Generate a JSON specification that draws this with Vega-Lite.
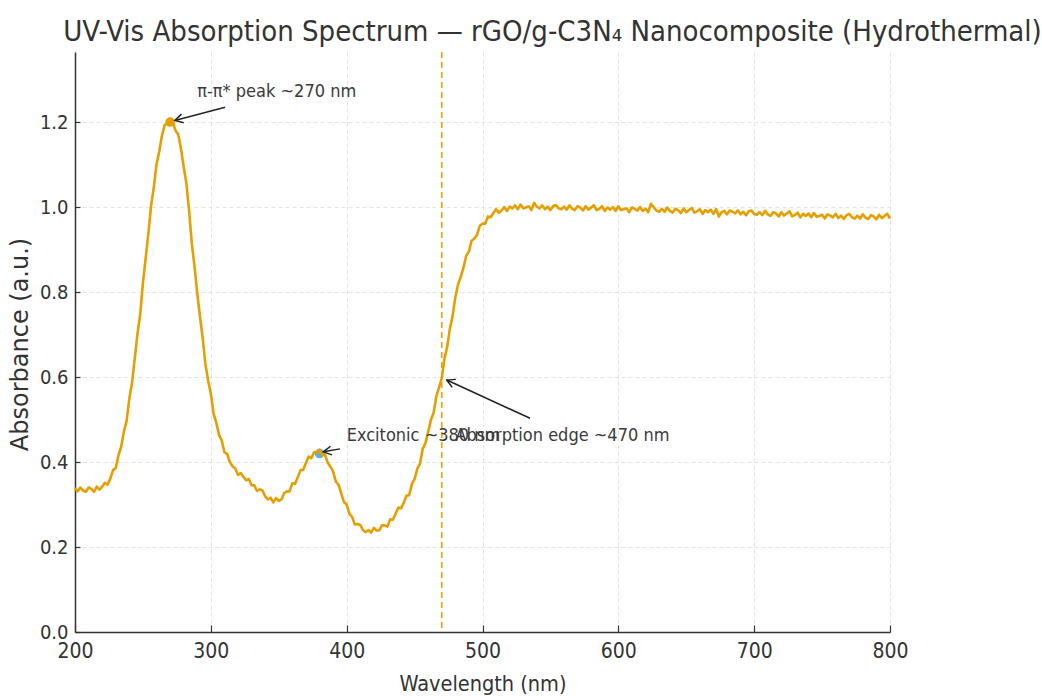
{
  "$schema": "https://vega.github.io/schema/vega-lite/v6.json",
  "width": 815,
  "height": 580,
  "autosize": "none",
  "padding": {"left": 75, "top": 52, "right": 152, "bottom": 64},
  "background": "white",
  "title": {
    "text": "UV-Vis Absorption Spectrum — rGO/g-C3N₄ Nanocomposite (Hydrothermal)",
    "font": "DejaVu Sans Condensed",
    "fontSize": 29,
    "fontWeight": "normal",
    "color": "#333333",
    "anchor": "middle",
    "frame": "group",
    "dx": 70,
    "dy": 29,
    "baseline": "alphabetic",
    "offset": 10
  },
  "config": {
    "view": {"stroke": null},
    "axis": {
      "grid": true,
      "gridColor": "#dddddd",
      "gridDash": [4, 3],
      "gridWidth": 0.8,
      "domainColor": "#333333",
      "domainWidth": 1.5,
      "tickColor": "#333333",
      "tickWidth": 1.2,
      "labelFont": "DejaVu Sans Condensed",
      "labelColor": "#333333",
      "titleFont": "DejaVu Sans Condensed",
      "titleColor": "#333333",
      "titleFontWeight": "normal"
    }
  },
  "datasets": {
    "spectrum": [
      {"wl":200,"a":0.339},{"wl":202,"a":0.331},{"wl":204,"a":0.340},{"wl":206,"a":0.333},{"wl":208,"a":0.330},
      {"wl":210,"a":0.340},{"wl":212,"a":0.337},{"wl":214,"a":0.330},{"wl":216,"a":0.342},{"wl":218,"a":0.335},
      {"wl":220,"a":0.342},{"wl":222,"a":0.351},{"wl":224,"a":0.347},{"wl":226,"a":0.361},{"wl":228,"a":0.381},
      {"wl":230,"a":0.386},{"wl":232,"a":0.416},{"wl":234,"a":0.436},{"wl":236,"a":0.472},{"wl":238,"a":0.497},
      {"wl":240,"a":0.549},{"wl":242,"a":0.587},{"wl":244,"a":0.644},{"wl":246,"a":0.702},{"wl":248,"a":0.748},
      {"wl":250,"a":0.821},{"wl":252,"a":0.879},{"wl":254,"a":0.937},{"wl":256,"a":1.003},{"wl":258,"a":1.046},
      {"wl":260,"a":1.100},{"wl":262,"a":1.131},{"wl":264,"a":1.168},{"wl":266,"a":1.193},{"wl":268,"a":1.198},
      {"wl":270,"a":1.199},{"wl":272,"a":1.199},{"wl":274,"a":1.180},{"wl":276,"a":1.171},{"wl":278,"a":1.138},
      {"wl":280,"a":1.095},{"wl":282,"a":1.056},{"wl":284,"a":0.991},{"wl":286,"a":0.914},{"wl":288,"a":0.860},
      {"wl":290,"a":0.797},{"wl":292,"a":0.742},{"wl":294,"a":0.692},{"wl":296,"a":0.631},{"wl":298,"a":0.592},
      {"wl":300,"a":0.561},{"wl":302,"a":0.514},{"wl":304,"a":0.493},{"wl":306,"a":0.464},{"wl":308,"a":0.451},
      {"wl":310,"a":0.423},{"wl":312,"a":0.419},{"wl":314,"a":0.400},{"wl":316,"a":0.390},{"wl":318,"a":0.385},
      {"wl":320,"a":0.370},{"wl":322,"a":0.374},{"wl":324,"a":0.365},{"wl":326,"a":0.357},{"wl":328,"a":0.360},
      {"wl":330,"a":0.345},{"wl":332,"a":0.345},{"wl":334,"a":0.332},{"wl":336,"a":0.336},{"wl":338,"a":0.333},
      {"wl":340,"a":0.319},{"wl":342,"a":0.312},{"wl":344,"a":0.316},{"wl":346,"a":0.305},{"wl":348,"a":0.315},
      {"wl":350,"a":0.309},{"wl":352,"a":0.312},{"wl":354,"a":0.327},{"wl":356,"a":0.331},{"wl":358,"a":0.331},
      {"wl":360,"a":0.350},{"wl":362,"a":0.349},{"wl":364,"a":0.364},{"wl":366,"a":0.381},{"wl":368,"a":0.382},
      {"wl":370,"a":0.398},{"wl":372,"a":0.413},{"wl":374,"a":0.409},{"wl":376,"a":0.423},{"wl":378,"a":0.422},
      {"wl":380,"a":0.429},{"wl":382,"a":0.415},{"wl":384,"a":0.418},{"wl":386,"a":0.399},{"wl":388,"a":0.389},
      {"wl":390,"a":0.378},{"wl":392,"a":0.354},{"wl":394,"a":0.347},{"wl":396,"a":0.326},{"wl":398,"a":0.306},
      {"wl":400,"a":0.300},{"wl":402,"a":0.278},{"wl":404,"a":0.271},{"wl":406,"a":0.253},{"wl":408,"a":0.254},
      {"wl":410,"a":0.252},{"wl":412,"a":0.240},{"wl":414,"a":0.235},{"wl":416,"a":0.240},{"wl":418,"a":0.234},
      {"wl":420,"a":0.245},{"wl":422,"a":0.239},{"wl":424,"a":0.239},{"wl":426,"a":0.251},{"wl":428,"a":0.251},
      {"wl":430,"a":0.248},{"wl":432,"a":0.265},{"wl":434,"a":0.264},{"wl":436,"a":0.278},{"wl":438,"a":0.293},
      {"wl":440,"a":0.291},{"wl":442,"a":0.304},{"wl":444,"a":0.321},{"wl":446,"a":0.322},{"wl":448,"a":0.348},
      {"wl":450,"a":0.360},{"wl":452,"a":0.384},{"wl":454,"a":0.397},{"wl":456,"a":0.431},{"wl":458,"a":0.445},
      {"wl":460,"a":0.471},{"wl":462,"a":0.499},{"wl":464,"a":0.516},{"wl":466,"a":0.554},{"wl":468,"a":0.576},
      {"wl":470,"a":0.597},{"wl":472,"a":0.643},{"wl":474,"a":0.671},{"wl":476,"a":0.714},{"wl":478,"a":0.744},
      {"wl":480,"a":0.788},{"wl":482,"a":0.818},{"wl":484,"a":0.836},{"wl":486,"a":0.858},{"wl":488,"a":0.885},
      {"wl":490,"a":0.896},{"wl":492,"a":0.921},{"wl":494,"a":0.926},{"wl":496,"a":0.935},{"wl":498,"a":0.956},
      {"wl":500,"a":0.961},{"wl":502,"a":0.961},{"wl":504,"a":0.978},{"wl":506,"a":0.976},{"wl":508,"a":0.986},
      {"wl":510,"a":0.995},{"wl":512,"a":0.987},{"wl":514,"a":0.992},{"wl":516,"a":1.000},{"wl":518,"a":0.991},
      {"wl":520,"a":1.001},{"wl":522,"a":0.997},{"wl":524,"a":1.004},{"wl":526,"a":0.995},{"wl":528,"a":1.006},
      {"wl":530,"a":0.997},{"wl":532,"a":0.999},{"wl":534,"a":1.002},{"wl":536,"a":0.993},{"wl":538,"a":1.010},
      {"wl":540,"a":1.001},{"wl":542,"a":0.997},{"wl":544,"a":1.004},{"wl":546,"a":0.995},{"wl":548,"a":1.001},
      {"wl":550,"a":0.993},{"wl":552,"a":1.002},{"wl":554,"a":1.005},{"wl":556,"a":0.997},{"wl":558,"a":0.995},
      {"wl":560,"a":1.001},{"wl":562,"a":0.994},{"wl":564,"a":1.004},{"wl":566,"a":0.996},{"wl":568,"a":0.993},
      {"wl":570,"a":1.002},{"wl":572,"a":0.999},{"wl":574,"a":0.992},{"wl":576,"a":1.002},{"wl":578,"a":0.994},
      {"wl":580,"a":0.999},{"wl":582,"a":1.004},{"wl":584,"a":0.993},{"wl":586,"a":0.996},{"wl":588,"a":1.002},
      {"wl":590,"a":0.991},{"wl":592,"a":0.999},{"wl":594,"a":0.994},{"wl":596,"a":1.000},{"wl":598,"a":0.991},
      {"wl":600,"a":1.002},{"wl":602,"a":0.993},{"wl":604,"a":0.995},{"wl":606,"a":0.997},{"wl":608,"a":0.988},
      {"wl":610,"a":0.999},{"wl":612,"a":0.996},{"wl":614,"a":0.992},{"wl":616,"a":1.000},{"wl":618,"a":0.991},
      {"wl":620,"a":0.996},{"wl":622,"a":0.988},{"wl":624,"a":1.008},{"wl":626,"a":1.000},{"wl":628,"a":0.992},
      {"wl":630,"a":0.989},{"wl":632,"a":0.996},{"wl":634,"a":0.989},{"wl":636,"a":0.999},{"wl":638,"a":0.991},
      {"wl":640,"a":0.987},{"wl":642,"a":0.996},{"wl":644,"a":0.993},{"wl":646,"a":0.986},{"wl":648,"a":0.997},
      {"wl":650,"a":0.988},{"wl":652,"a":0.993},{"wl":654,"a":0.998},{"wl":656,"a":0.987},{"wl":658,"a":0.990},
      {"wl":660,"a":0.995},{"wl":662,"a":0.984},{"wl":664,"a":0.993},{"wl":666,"a":0.988},{"wl":668,"a":0.994},
      {"wl":670,"a":0.984},{"wl":672,"a":0.995},{"wl":674,"a":0.978},{"wl":676,"a":0.988},{"wl":678,"a":0.991},
      {"wl":680,"a":0.983},{"wl":682,"a":0.992},{"wl":684,"a":0.989},{"wl":686,"a":0.985},{"wl":688,"a":0.992},
      {"wl":690,"a":0.983},{"wl":692,"a":0.989},{"wl":694,"a":0.981},{"wl":696,"a":0.990},{"wl":698,"a":0.992},
      {"wl":700,"a":0.984},{"wl":702,"a":0.982},{"wl":704,"a":0.988},{"wl":706,"a":0.981},{"wl":708,"a":0.991},
      {"wl":710,"a":0.983},{"wl":712,"a":0.979},{"wl":714,"a":0.988},{"wl":716,"a":0.985},{"wl":718,"a":0.978},
      {"wl":720,"a":0.988},{"wl":722,"a":0.980},{"wl":724,"a":0.985},{"wl":726,"a":0.990},{"wl":728,"a":0.978},
      {"wl":730,"a":0.981},{"wl":732,"a":0.987},{"wl":734,"a":0.976},{"wl":736,"a":0.984},{"wl":738,"a":0.979},
      {"wl":740,"a":0.985},{"wl":742,"a":0.976},{"wl":744,"a":0.986},{"wl":746,"a":0.977},{"wl":748,"a":0.979},
      {"wl":750,"a":0.982},{"wl":752,"a":0.973},{"wl":754,"a":0.983},{"wl":756,"a":0.980},{"wl":758,"a":0.976},
      {"wl":760,"a":0.984},{"wl":762,"a":0.974},{"wl":764,"a":0.980},{"wl":766,"a":0.972},{"wl":768,"a":0.981},
      {"wl":770,"a":0.984},{"wl":772,"a":0.976},{"wl":774,"a":0.973},{"wl":776,"a":0.980},{"wl":778,"a":0.973},
      {"wl":780,"a":0.983},{"wl":782,"a":0.975},{"wl":784,"a":0.972},{"wl":786,"a":0.981},{"wl":788,"a":0.978},
      {"wl":790,"a":0.971},{"wl":792,"a":0.982},{"wl":794,"a":0.974},{"wl":796,"a":0.979},{"wl":798,"a":0.984},
      {"wl":800,"a":0.973}
    ],
    "markers": [
      {"id": "peak", "wl": 270, "a": 1.2},
      {"id": "exc", "wl": 380, "a": 0.42}
    ],
    "edge": [{"wl": 470}],
    "arrows": [
      {"id": "peak", "label": "π-π* peak ~270 nm", "tx": 290, "ty": 1.26, "x1": 310.5, "y1": 1.235, "x2": 273.5, "y2": 1.204},
      {"id": "exc", "label": "Excitonic ~380 nm", "tx": 400, "ty": 0.45, "x1": 395.1, "y1": 0.431, "x2": 382.8, "y2": 0.424},
      {"id": "edge", "label": "Absorption edge ~470 nm", "tx": 480, "ty": 0.45, "x1": 535, "y1": 0.503, "x2": 473.7, "y2": 0.593}
    ]
  },
  "layer": [
    {
      "data": {"name": "edge"},
      "mark": {"type": "rule", "color": "#EDA100", "strokeWidth": 1.6, "strokeDash": [6, 4]},
      "encoding": {
        "x": {"field": "wl", "type": "quantitative", "scale": {"domain": [200, 800], "nice": false, "zero": false},
          "axis": {"values": [200, 300, 400, 500, 600, 700, 800], "labelFontSize": 21, "labelFlush": false, "labelOverlap": false, "tickSize": -7, "labelPadding": 15,
            "title": "Wavelength (nm)", "titleFontSize": 21.5, "titleX": 407.5, "titleY": 52, "titleBaseline": "middle", "titleAlign": "center"}}
      }
    },
    {
      "data": {"name": "markers"},
      "transform": [{"filter": "datum.id == 'peak'"}],
      "mark": {"type": "point", "filled": true, "color": "#E69F00", "size": 90, "opacity": 1},
      "encoding": {
        "x": {"field": "wl", "type": "quantitative"},
        "y": {"field": "a", "type": "quantitative"}
      }
    },
    {
      "data": {"name": "markers"},
      "transform": [{"filter": "datum.id == 'exc'"}],
      "mark": {"type": "point", "filled": true, "color": "#56B4E9", "size": 90, "opacity": 1},
      "encoding": {
        "x": {"field": "wl", "type": "quantitative"},
        "y": {"field": "a", "type": "quantitative"}
      }
    },
    {
      "data": {"name": "spectrum"},
      "mark": {"type": "line", "color": "#E69F00", "strokeWidth": 2.6, "strokeJoin": "round"},
      "encoding": {
        "x": {"field": "wl", "type": "quantitative"},
        "y": {"field": "a", "type": "quantitative", "scale": {"domain": [0, 1.365], "nice": false},
          "axis": {"values": [0, 0.2, 0.4, 0.6, 0.8, 1.0, 1.2], "format": ".1f", "labelFontSize": 20, "tickSize": -5, "labelPadding": 12,
            "title": "Absorbance (a.u.)", "titleFont": "DejaVu Sans", "titleFontSize": 24, "titleX": -55, "titleY": 292, "titleBaseline": "middle", "titleAlign": "center", "titleAngle": -90}}
      }
    },
    {
      "data": {"name": "arrows"},
      "mark": {"type": "rule", "color": "#222222", "strokeWidth": 1.5},
      "encoding": {
        "x": {"field": "x1", "type": "quantitative"},
        "y": {"field": "y1", "type": "quantitative"},
        "x2": {"field": "x2"},
        "y2": {"field": "y2"}
      }
    },
    {
      "data": {"name": "arrows"},
      "transform": [{"filter": "datum.id == 'peak'"}],
      "mark": {"type": "point", "shape": "M-1,-0.55L0,0L-1,0.55", "filled": false, "stroke": "#222222", "strokeWidth": 1.5, "size": 256, "angle": 165.4, "opacity": 1},
      "encoding": {
        "x": {"field": "x2", "type": "quantitative"},
        "y": {"field": "y2", "type": "quantitative"}
      }
    },
    {
      "data": {"name": "arrows"},
      "transform": [{"filter": "datum.id == 'exc'"}],
      "mark": {"type": "point", "shape": "M-1,-0.55L0,0L-1,0.55", "filled": false, "stroke": "#222222", "strokeWidth": 1.5, "size": 256, "angle": 170.8, "opacity": 1},
      "encoding": {
        "x": {"field": "x2", "type": "quantitative"},
        "y": {"field": "y2", "type": "quantitative"}
      }
    },
    {
      "data": {"name": "arrows"},
      "transform": [{"filter": "datum.id == 'edge'"}],
      "mark": {"type": "point", "shape": "M-1,-0.55L0,0L-1,0.55", "filled": false, "stroke": "#222222", "strokeWidth": 1.5, "size": 256, "angle": 204.7, "opacity": 1},
      "encoding": {
        "x": {"field": "x2", "type": "quantitative"},
        "y": {"field": "y2", "type": "quantitative"}
      }
    },
    {
      "data": {"name": "arrows"},
      "mark": {"type": "text", "align": "left", "baseline": "alphabetic", "font": "DejaVu Sans Condensed", "fontSize": 18, "color": "#3a3a3a"},
      "encoding": {
        "x": {"field": "tx", "type": "quantitative"},
        "y": {"field": "ty", "type": "quantitative"},
        "text": {"field": "label"}
      }
    }
  ]
}
